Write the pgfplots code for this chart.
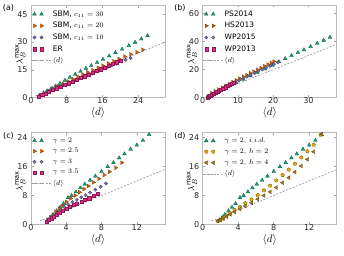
\documentclass[border=0pt]{standalone}
\usepackage{fontspec}
\setmainfont{DejaVu Sans}
\usepackage{pgfplots}
\pgfplotsset{compat=1.18}
\usetikzlibrary{plotmarks}
\definecolor{cA}{HTML}{1B9E77}
\definecolor{cB}{HTML}{D95F02}
\definecolor{cC}{HTML}{7570B3}
\definecolor{cD}{HTML}{E7298A}
\definecolor{cE}{HTML}{E6AB02}
\definecolor{cF}{HTML}{A6761D}
\pgfplotsset{
  legend image code/.code={
    \path (0pt,0pt) -- (19pt,0pt);
    \draw[mark repeat=1,mark phase=1,#1] plot coordinates {(3pt,0pt)(10pt,0pt)};
  },
  panel/.style={
    scale only axis, width=134pt, height=92.7pt,
    axis line style={gray!55, line width=0.8pt},
    tick align=inside, major tick length=2.5pt,
    tick style={gray!70, line width=0.5pt},
    tick label style={font=\fontsize{8}{9}\selectfont, text=black!85},
    xticklabel style={inner ysep=0.5pt, yshift=0.5pt},
    /pgf/number format/assume math mode=true,
    xlabel={$\langle d\rangle$},
    ylabel={$\lambda_B^{\max}$},
    xlabel style={font=\fontsize{10.5}{11}\selectfont, inner sep=0pt, at={(axis description cs:0.5,-0.165)}, anchor=center},
    ylabel style={font=\fontsize{9.5}{10}\selectfont, at={(axis description cs:-0.08,0.47)}, anchor=center},
    legend style={draw=none, fill=none, at={(axis description cs:0,0.985)}, anchor=north west,
      font=\fontsize{7.5}{8}\selectfont, row sep=0.6pt, inner xsep=0pt, inner ysep=2pt},
    legend cell align=left,
    clip=false,
  },
  mA/.style={only marks, draw=none, mark=triangle*, mark size=2.2pt, mark options={fill=cA, draw=cA!60!black, line width=0.3pt}},
  mB/.style={only marks, draw=none, mark=triangle*, mark size=2.2pt, mark options={rotate=-90, fill=cB, draw=cB!60!black, line width=0.3pt}},
  mC/.style={only marks, draw=none, mark=*, mark size=1.7pt, mark options={fill=cC, draw=cC!60!black, line width=0.3pt}},
  mD/.style={only marks, draw=none, mark=square*, mark size=1.6pt, mark options={fill=cD, draw=cD!60!black, line width=0.3pt}},
  mE/.style={only marks, draw=none, mark=pentagon*, mark size=1.9pt, mark options={fill=cE, draw=cE!50!black, line width=0.3pt}},
  mF/.style={only marks, draw=none, mark=triangle*, mark size=2.2pt, mark options={rotate=90, fill=cF, draw=cF!60!black, line width=0.3pt}},
  dline/.style={no marks, gray!75, line width=0.7pt, dash pattern=on 2pt off 1.5pt,
    legend image code/.code={\draw[##1] (1pt,0pt) -- (12pt,0pt); \path (0pt,0pt) -- (19pt,0pt);}},
}
\begin{document}
\begin{tikzpicture}
\useasboundingbox (0pt,0pt) rectangle (344pt,255pt);
% (a)
\begin{axis}[panel, at={(31pt,157.3pt)}, anchor=south west,
  xmin=0, xmax=30, ymin=0, ymax=50, xtick={0,8,16,24}, ytick={0,15,30,45}]
\addplot[mA] coordinates {(2.0,1.5)(2.8,2.6)(3.6,3.7)(4.5,4.9)(5.5,6.3)(6.5,7.7)(7.6,9.4)(8.7,11.0)(9.9,12.6)(11.1,14.2)(12.3,15.8)(13.5,17.3)(14.8,19.0)(16.1,20.7)(17.5,22.5)(18.9,24.3)(20.4,26.2)(21.9,28.1)(23.3,29.9)(24.7,31.7)(26.1,33.4)};
\addlegendentry{SBM, $c_{11}=30$}
\addplot[mB] coordinates {(2.0,1.0)(3.0,2.3)(4.0,3.6)(5.0,4.9)(6.1,6.2)(7.2,7.5)(8.3,8.8)(9.4,10.0)(10.5,11.3)(11.6,12.5)(12.7,13.7)(13.8,14.9)(15.0,16.2)(16.1,17.3)(17.3,18.5)(18.5,19.7)(19.7,20.9)(21.0,22.2)(22.3,23.4)(23.7,24.5)(25.0,25.9)};
\addlegendentry{SBM, $c_{11}=20$}
\addplot[mC] coordinates {(1.9,0.8)(2.9,2.0)(3.9,3.2)(4.9,4.3)(6.0,5.4)(7.1,6.5)(8.2,7.6)(9.3,8.7)(10.4,9.8)(11.5,10.9)(12.6,12.0)(13.7,13.1)(14.8,14.1)(15.9,15.2)(17.0,16.3)(18.1,17.4)(19.1,18.4)(20.2,19.5)(21.2,20.4)(22.3,21.4)};
\addlegendentry{SBM, $c_{11}=10$}
\addplot[mD] coordinates {(1.8,0.6)(2.5,1.5)(3.2,2.4)(4.0,3.3)(4.8,4.2)(5.7,5.1)(6.6,6.0)(7.5,6.9)(8.4,7.9)(9.3,8.8)(10.2,9.7)(11.1,10.7)(12.0,11.6)(12.9,12.6)(13.8,13.5)(14.7,14.5)(15.6,15.4)(16.5,16.4)(17.4,17.3)(18.3,18.3)(19.2,19.2)(20.1,20.1)};
\addlegendentry{ER}
\addplot[dline] coordinates {(1,1)(30,30)};
\addlegendentry{$\langle d\rangle$}
\node[font=\fontsize{8}{9}\selectfont, anchor=center] at (axis description cs:-0.168,0.968) {(a)};
\end{axis}
% (b)
\begin{axis}[panel, at={(202.7pt,157.3pt)}, anchor=south west,
  xmin=0, xmax=38, ymin=0, ymax=66, xtick={0,10,20,30}, ytick={0,20,40,60}]
\addplot[mA] coordinates {(1.5,0.8)(3.5,3.6)(5.5,6.0)(7.5,8.4)(9.5,10.8)(11.5,13.2)(13.5,15.6)(15.5,18.0)(17.6,20.5)(19.7,23.0)(21.6,25.6)(23.4,27.8)(25.2,30.0)(27.0,32.1)(28.7,34.1)(30.6,36.4)(32.5,38.7)(34.3,40.9)(36.1,43.0)};
\addlegendentry{PS2014}
\addplot[mB] coordinates {(2.5,3.3)(3.5,4.6)(4.5,5.9)(5.5,7.2)(6.5,8.5)(7.5,9.8)(8.5,11.1)(9.5,12.4)(10.5,13.6)(11.5,14.9)(12.5,16.1)(13.5,17.4)(14.5,18.6)(15.5,19.9)(16.5,21.1)(17.5,22.4)(18.5,23.6)(19.4,24.8)(20.2,25.8)};
\addlegendentry{HS2013}
\addplot[mC] coordinates {(1.5,1.2)(2.6,2.6)(3.7,4.1)(4.8,5.5)(5.9,6.9)(7.0,8.3)(8.1,9.6)(9.2,11.0)(10.3,12.3)(11.4,13.6)(12.5,14.9)(13.6,16.2)(14.7,17.5)(15.8,18.8)(16.9,20.1)(18.0,21.4)(19.1,22.6)(20.2,23.9)(21.3,25.2)};
\addlegendentry{WP2015}
\addplot[mD] coordinates {(1.3,0.3)(1.7,1.0)(2.1,1.6)(2.6,2.3)(3.1,3.0)(3.6,3.7)(4.1,4.4)(4.6,5.1)(5.2,5.9)(5.8,6.7)(6.4,7.5)(7.0,8.3)(7.6,9.1)(8.2,9.9)(8.8,10.6)};
\addlegendentry{WP2013}
\addplot[dline] coordinates {(1,1)(38,38)};
\addlegendentry{$\langle d\rangle$}
\node[font=\fontsize{8}{9}\selectfont, anchor=center] at (axis description cs:-0.17,0.968) {(b)};
\end{axis}
% (c)
\begin{axis}[panel, at={(31pt,30.3pt)}, anchor=south west,
  xmin=0, xmax=15.2, ymin=0, ymax=25.4, xtick={0,4,8,12}, ytick={0,8,16,24}]
\addplot[mA] coordinates {(1.9,1.2)(2.2,2.0)(2.5,2.8)(2.9,3.8)(3.3,4.8)(3.7,5.8)(4.2,7.4)(4.6,8.0)(5.1,9.0)(5.6,10.1)(6.1,11.1)(6.7,12.2)(7.3,13.3)(8.0,14.6)(8.7,15.9)(9.35,17.0)(10.0,18.3)(10.6,19.4)(11.3,20.7)(12.0,21.8)(12.7,23.1)(13.4,24.7)};
\addlegendentry{$\gamma=2$}
\addplot[mB] coordinates {(1.9,1.3)(2.2,2.0)(2.5,2.7)(2.8,3.6)(3.2,4.4)(3.6,5.2)(4.0,6.3)(4.5,7.2)(5.0,8.0)(5.5,8.9)(6.0,9.8)(6.5,10.6)(7.1,11.6)(7.7,12.6)(8.3,13.6)(8.9,14.5)(9.6,15.6)(10.3,17.0)};
\addlegendentry{$\gamma=2.5$}
\addplot[mC] coordinates {(1.9,1.3)(2.2,1.9)(2.6,2.5)(3.0,3.3)(3.4,4.0)(3.8,4.8)(4.2,5.6)(4.7,6.2)(5.2,6.8)(5.7,7.5)(6.2,8.1)(6.7,8.8)(7.3,9.6)(7.9,10.4)(8.5,11.3)};
\addlegendentry{$\gamma=3$}
\addplot[mD] coordinates {(1.8,0.9)(2.0,1.3)(2.3,1.8)(2.6,2.3)(2.9,2.8)(3.2,3.3)(3.6,3.9)(4.0,4.4)(4.4,4.9)(4.8,5.4)(5.2,5.8)(5.7,6.4)(6.1,6.8)(6.6,7.3)(7.1,7.9)(7.6,8.6)};
\addlegendentry{$\gamma=3.5$}
\addplot[dline] coordinates {(1,1)(15.2,15.2)};
\addlegendentry{$\langle d\rangle$}
\node[font=\fontsize{8}{9}\selectfont, anchor=center] at (axis description cs:-0.168,0.957) {(c)};
\end{axis}
% (d)
\begin{axis}[panel, at={(202.7pt,30.3pt)}, anchor=south west,
  xmin=0, xmax=15.1, ymin=0, ymax=25.4, xtick={0,4,8,12}, ytick={0,8,16,24}]
\addplot[mA] coordinates {(1.9,1.2)(2.2,2.0)(2.5,2.8)(2.9,3.8)(3.3,4.8)(3.7,5.8)(4.2,7.4)(4.6,8.0)(5.1,9.0)(5.6,10.1)(6.1,11.1)(6.7,12.2)(7.3,13.3)(8.0,14.6)(8.7,15.9)(9.35,17.0)(10.0,18.3)(10.6,19.4)(11.3,20.7)(12.0,21.8)(12.7,23.1)(13.4,24.7)};
\addlegendentry{$\gamma=2,\, i.i.d.$}
\addplot[mE] coordinates {(1.7,1.0)(2.0,1.3)(2.3,1.8)(2.7,2.5)(3.1,3.2)(3.6,4.0)(4.2,4.9)(4.8,5.9)(5.5,6.9)(6.2,8.1)(6.9,9.4)(7.6,10.7)(8.3,12.1)(9.0,13.6)(9.7,15.1)(10.4,16.7)(11.1,18.4)(11.8,20.1)(12.5,21.9)(13.3,24.6)};
\addlegendentry{$\gamma=2,\, h=2$}
\addplot[mF] coordinates {(1.7,1.0)(2.0,1.2)(2.3,1.6)(2.7,2.2)(3.1,2.8)(3.6,3.5)(4.2,4.3)(4.8,5.1)(5.5,6.0)(6.2,7.0)(6.9,8.0)(7.6,9.0)(8.3,10.2)(9.0,11.5)(9.7,12.9)(10.4,14.4)(11.1,16.1)(11.8,17.9)(12.5,20.0)(13.4,24.8)};
\addlegendentry{$\gamma=2,\, h=4$}
\addplot[dline] coordinates {(1,1)(15.1,15.1)};
\addlegendentry{$\langle d\rangle$}
\node[font=\fontsize{8}{9}\selectfont, anchor=center] at (axis description cs:-0.17,0.957) {(d)};
\end{axis}
\end{tikzpicture}
\end{document}
